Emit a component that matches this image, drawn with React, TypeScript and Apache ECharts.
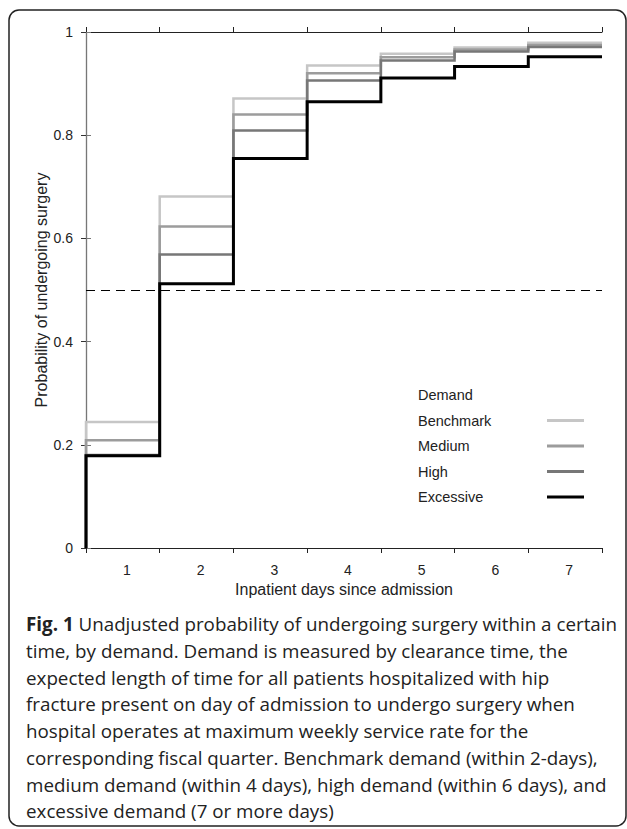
import React, { useEffect, useRef } from "react";
import * as echarts from "echarts";

const dayLabels = ["1", "2", "3", "4", "5", "6", "7"];
const days = [1, 2, 3, 4, 5, 6, 7];
const seriesNames = ["Benchmark", "Medium", "High", "Excessive"];
const benchmark = [0.244, 0.681, 0.871, 0.935, 0.958, 0.97, 0.979];
const medium = [0.209, 0.623, 0.84, 0.92, 0.951, 0.966, 0.975];
const high = [0.18, 0.569, 0.809, 0.906, 0.945, 0.962, 0.971];
const excessive = [0.179, 0.512, 0.755, 0.865, 0.911, 0.933, 0.952];
const referenceLevel = 0.5;
const legendTitle = "Demand";
const xTitle = "Inpatient days since admission";
const yTitle = "Probability of undergoing surgery";
const captionLines = [
  "{b|Fig. 1} Unadjusted probability of undergoing surgery within a certain",
  "time, by demand. Demand is measured by clearance time, the",
  "expected length of time for all patients hospitalized with hip",
  "fracture present on day of admission to undergo surgery when",
  "hospital operates at maximum weekly service rate for the",
  "corresponding fiscal quarter. Benchmark demand (within 2-days),",
  "medium demand (within 4 days), high demand (within 6 days), and",
  "excessive demand (7 or more days)",
];

const seriesValues = [benchmark, medium, high, excessive];
const seriesColors = ["#c6c6c6", "#9c9c9c", "#777777", "#000000"];
const seriesWidths = [2.5, 2.5, 2.5, 3];

const FONT = "'Liberation Sans', Arial, Helvetica, sans-serif";
const CAPTION_FONT = "'Open Sans', 'Noto Sans', sans-serif";

export default function App() {
  const ref = useRef<HTMLDivElement>(null);

  useEffect(() => {
    if (!ref.current) return;
    const chart = echarts.init(ref.current, undefined, { renderer: "svg" });

    const series: any[] = seriesNames.map((name, si) => ({
      name,
      type: "line",
      step: "start",
      xAxisIndex: 0,
      yAxisIndex: 0,
      symbol: "none",
      color: seriesColors[si],
      lineStyle: {
        color: seriesColors[si],
        width: seriesWidths[si],
        cap: "butt",
        join: "miter",
      },
      z: 2 + si,
      data: [[0, 0], ...days.map((d, i) => [d, seriesValues[si][i]])],
    }));
    series[0].markLine = {
      silent: true,
      symbol: ["none", "none"],
      label: { show: false },
      lineStyle: { type: [9, 6], color: "#000", width: 1 },
      data: [{ yAxis: referenceLevel }],
    };

    const valueXAxisBase = {
      type: "value",
      min: 0,
      max: 7,
      interval: 1,
      axisLine: { show: true, lineStyle: { color: "#222", width: 1 } },
      axisTick: { show: true, length: 5, lineStyle: { color: "#222" } },
      axisLabel: { show: false },
      splitLine: { show: false },
    };

    const option: any = {
      animation: false,
      backgroundColor: "#fff",
      textStyle: { fontFamily: FONT },
      grid: { left: 86, top: 32, right: 25, bottom: 281, containLabel: false },
      title: {
        text: legendTitle,
        left: 418,
        top: 387,
        padding: 0,
        textStyle: { fontSize: 14.5, fontWeight: "normal", color: "#222", fontFamily: FONT },
      },
      legend: [
        {
          orient: "vertical",
          left: 413,
          top: 413,
          padding: 0,
          itemWidth: 0,
          itemHeight: 14,
          itemGap: 10.5,
          icon: "rect",
          selectedMode: false,
          data: seriesNames,
          textStyle: { fontSize: 14.5, color: "#222", lineHeight: 14, fontFamily: FONT },
        },
        {
          orient: "vertical",
          left: 547,
          top: 413,
          padding: 0,
          itemWidth: 37,
          itemHeight: 3,
          itemGap: 10.5,
          icon: "rect",
          selectedMode: false,
          data: seriesNames,
          formatter: () => " ",
          textStyle: { fontSize: 14.5, color: "#222", lineHeight: 14, fontFamily: FONT },
        },
      ],
      xAxis: [
        {
          ...valueXAxisBase,
          position: "bottom",
          name: xTitle,
          nameLocation: "middle",
          nameGap: 33,
          nameMoveOverlap: false,
          nameTextStyle: { fontSize: 16, color: "#222", fontFamily: FONT },
        },
        {
          type: "category",
          data: dayLabels,
          position: "bottom",
          boundaryGap: true,
          axisLine: { show: false },
          axisTick: { show: false },
          splitLine: { show: false },
          axisLabel: {
            fontSize: 14,
            color: "#222",
            margin: 15,
            padding: [0, 0, 0, 8],
            fontFamily: FONT,
          },
        },
        { ...valueXAxisBase, position: "top" },
      ],
      yAxis: [
        {
          type: "value",
          min: 0,
          max: 1,
          interval: 0.2,
          position: "left",
          axisLine: { show: true, lineStyle: { color: "#999", width: 1.2 } },
          axisTick: { show: true, length: 5, lineStyle: { color: "#333" } },
          splitLine: { show: false },
          axisLabel: {
            fontSize: 14,
            color: "#222",
            margin: 13,
            fontFamily: FONT,
            formatter: (v: number) => String(Number(v.toFixed(1))),
          },
          name: yTitle,
          nameLocation: "middle",
          nameGap: 37,
          nameMoveOverlap: false,
          nameRotate: 90,
          nameTextStyle: { fontSize: 16, color: "#222", fontFamily: FONT },
        },
        {
          type: "value",
          min: 0,
          max: 1,
          interval: 0.2,
          position: "right",
          axisLine: { show: true, lineStyle: { color: "#777", width: 1.2 } },
          axisTick: { show: true, length: 5, lineStyle: { color: "#777" } },
          splitLine: { show: false },
          axisLabel: { show: false },
        },
      ],
      graphic: [
        {
          type: "rect",
          shape: { x: 9, y: 10, width: 617, height: 816, r: 10 },
          style: { fill: "none", stroke: "#222", lineWidth: 1.5 },
          silent: true,
          z: -1,
        },
        {
          type: "text",
          x: 26,
          y: 611,
          style: {
            text: captionLines.join("\n"),
            fontFamily: CAPTION_FONT,
            fontSize: 18.8,
            lineHeight: 26.7,
            fill: "#222",
            verticalAlign: "top",
            rich: {
              b: {
                fontWeight: "bold",
                fontFamily: CAPTION_FONT,
                fontSize: 18.8,
                lineHeight: 26.7,
                fill: "#222",
              },
            },
          },
        },
      ],
      series,
    };

    chart.setOption(option);
    return () => chart.dispose();
  }, []);

  return (
    <div
      ref={ref}
      style={{ position: "absolute", left: 0, top: 0, width: 627, height: 829 }}
    />
  );
}
